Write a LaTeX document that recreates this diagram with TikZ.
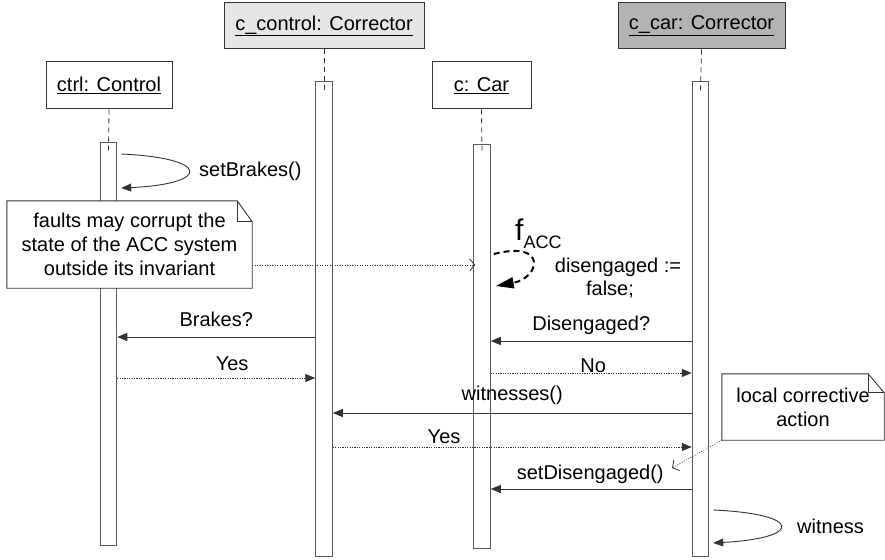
\documentclass[tikz,border=0pt]{standalone}
\usepackage{fontspec}
\setmainfont{Liberation Sans}
\usetikzlibrary{arrows.meta,calc}
\definecolor{linegray}{HTML}{333333}
\definecolor{barline}{HTML}{5A5A5A}
\definecolor{ccfill}{HTML}{E6E6E6}
\definecolor{ccarfill}{HTML}{B3B3B3}
\begin{document}
\begin{tikzpicture}[x=1pt,y=-1pt,
  every node/.style={font=\fontsize{20}{24}\selectfont, inner sep=0pt, text=black},
  head/.style={draw=linegray, line width=1pt, rectangle},
  actbar/.style={draw=barline, fill=white, line width=1pt, rectangle, minimum width=16.5pt},
  life/.style={draw=linegray, dash pattern=on 5pt off 4pt, line width=0.8pt},
  msg/.style={draw=linegray, line width=0.9pt, -{Triangle[length=10pt,width=8pt]}},
  reply/.style={msg, dash pattern=on 1.2pt off 1.2pt},
  lbl/.style={anchor=base},
  notebg/.style={fill=white, draw=none, rectangle, align=center},
  notebd/.style={draw=linegray, line width=0.9pt, line join=miter},
  noteconn/.style={draw=linegray, line width=0.6pt, dash pattern=on 1pt off 1.5pt,
    -{Straight Barb[length=5pt,width=12pt,line width=0.8pt]}},
  fault/.style={draw=black, line width=2pt, dash pattern=on 6pt off 4pt,
    -{Triangle[length=18pt,width=11pt]}}
]
\useasboundingbox (0,0) rectangle (885,559);

% object heads
\node[head, fill=white, minimum width=126pt, minimum height=47pt] (hctrl) at (109,85.5) {\underline{ctrl: Control}};
\node[head, fill=ccfill, minimum width=200pt, minimum height=46pt] (hcc) at (324,26) {\underline{c\_control: Corrector}};
\node[head, fill=white, minimum width=99pt, minimum height=47pt] (hcar) at (481.5,85.5) {\underline{c: Car}};
\node[head, fill=ccarfill, minimum width=167pt, minimum height=46pt] (hccar) at (701.5,26) {\underline{c\_car: Corrector}};

% activation bars
\node[actbar, minimum height=403pt] (bctrl) at (108.5,343.5) {};
\node[actbar, minimum height=474pt] (bcc) at (324,319) {};
\node[actbar, minimum height=404pt] (bcar) at (482,346) {};
\node[actbar, minimum height=474pt] (bccar) at (700.5,319) {};

% lifelines
\draw[life] (hctrl.south) -- ($(bctrl.north)+(0,10)$);
\draw[life] (hcc.south) -- ($(bcc.north)+(0,10)$);
\draw[life] (hcar.south) -- ($(bcar.north)+(0,10)$);
\draw[life] (hccar.south) -- ($(bccar.north)+(0,10)$);

% self call on ctrl
\draw[msg] ($(bctrl.east |- 0,154)+(4,0)$) .. controls (211,158) and (211,184) .. ($(bctrl.east |- 0,188)+(4,0)$);
\node[anchor=base west] (lsb) at (199,176) {setBrakes()};

% fault on the car
\draw[fault] ($(bcar.east |- 0,254)+(3,0)$) .. controls (548,240) and (540,278) .. ($(bcar.east |- 0,286)+(5,0)$);
\node[anchor=base west] (lf) at (515,240) {{\fontsize{30}{30}\selectfont f}\raisebox{-8pt}{\fontsize{18}{18}\selectfont ACC}};
\node[lbl] (ld1) at (618,272) {disengaged :=};
\node[lbl] (ld2) at (610,295) {false;};

% messages
\draw[msg] (bcc.west |- 0,337) -- node[lbl, pos=0.5, yshift=11pt] (lbr) {Brakes?} (bctrl.east |- 0,337);
\draw[reply] (bctrl.east |- 0,378) -- node[lbl, pos=0.58, yshift=8pt] (ly1) {Yes} (bcc.west |- 0,378);
\draw[msg] (bccar.west |- 0,341) -- node[lbl, pos=0.5, yshift=11pt] (ldis) {Disengaged?} (bcar.east |- 0,341);
\draw[reply] (bcar.east |- 0,373) -- node[lbl, pos=0.51, yshift=1pt] (lno) {No} (bccar.west |- 0,373);
\draw[msg] (bccar.west |- 0,413) -- node[lbl, pos=0.5, yshift=13pt] (lwit) {witnesses()} (bcc.east |- 0,413);
\draw[reply] (bcc.east |- 0,447) -- node[lbl, pos=0.31, yshift=4pt] (ly2) {Yes} (bccar.west |- 0,447);
\draw[msg] (bccar.west |- 0,489) -- node[lbl, pos=0.505, yshift=10pt] (lsd) {setDisengaged()} (bcar.east |- 0,489);

% self call on c_car
\draw[msg] ($(bccar.east |- 0,510)+(4,0)$) .. controls (803,514) and (803,538) .. ($(bccar.east |- 0,543)+(4,0)$);
\node[anchor=base west] (lw) at (797,533) {witness};

% note on faults
\node[notebg, minimum width=245pt, minimum height=87pt] (n1) at (129.5,244.5) {faults may corrupt the\\state of the ACC system\\outside its invariant};
\draw[notebd] (n1.south west) -- (n1.north west) -- ($(n1.north east)+(-15,0)$) -- ($(n1.north east)+(0,21)$) -- (n1.south east) -- cycle;
\draw[notebd] ($(n1.north east)+(-15,0)$) -- ($(n1.north east)+(-15,21)$) -- ($(n1.north east)+(0,21)$);
\draw[noteconn] (n1.east |- 0,265) -- ($(bcar.west |- 0,265)+(2,0)$);

% note on corrective action
\node[notebg, minimum width=162pt, minimum height=66pt] (n2) at (803,407) {local corrective\\action};
\draw[notebd] (n2.south west) -- (n2.north west) -- ($(n2.north east)+(-16,0)$) -- ($(n2.north east)+(0,19)$) -- (n2.south east) -- cycle;
\draw[notebd] ($(n2.north east)+(-16,0)$) -- ($(n2.north east)+(-16,19)$) -- ($(n2.north east)+(0,19)$);
\coordinate (sdend) at (672,468);
\draw[noteconn] (n2.south west) -- (sdend);
\end{tikzpicture}
\end{document}
